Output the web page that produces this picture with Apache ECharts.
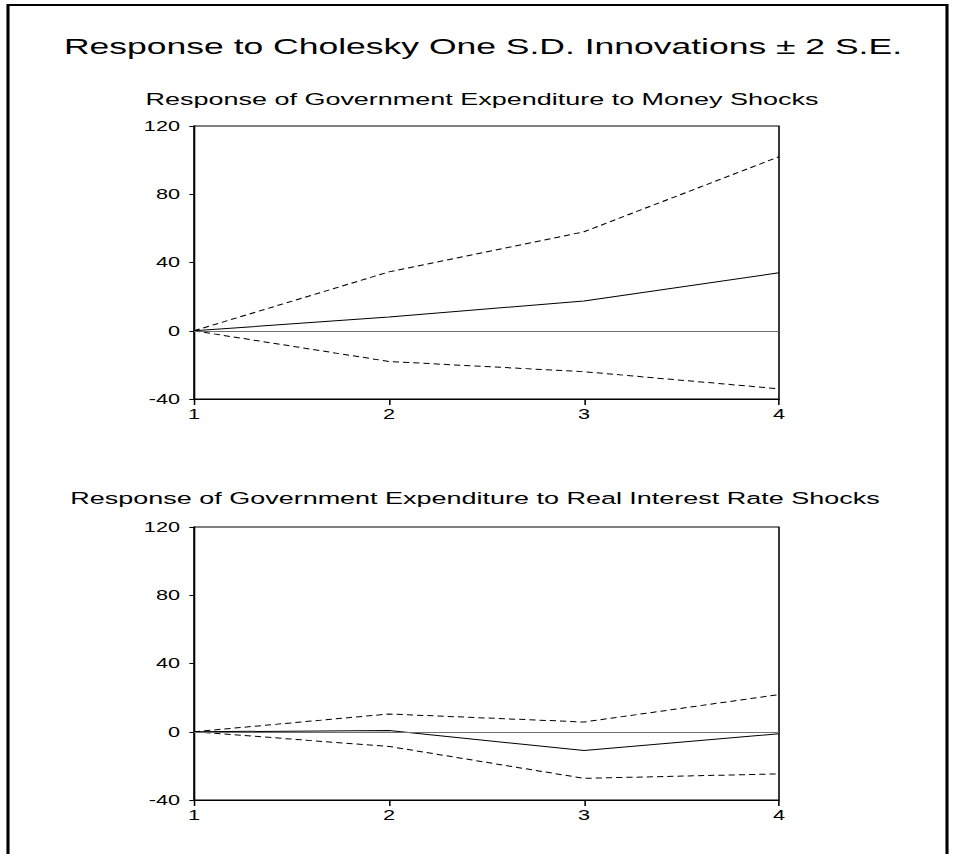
<!DOCTYPE html>
<html>
<head>
<meta charset="utf-8">
<script src="https://cdn.jsdelivr.net/npm/echarts@6/dist/echarts.min.js"></script>
<style>
  html, body { margin: 0; padding: 0; background: #fff; overflow: hidden; }
  #chart { height: 854px; transform-origin: 0 0; }
</style>
</head>
<body>
<div id="chart"></div>
<script>
// Impulse responses over a 4-period horizon, with +/- 2 S.E. bands
const steps = [1, 2, 3, 4];
const moneyResp  = [0, 8, 17.5, 34];
const moneyUpper = [0, 34.5, 58, 102];
const moneyLower = [0, -18, -24, -34];
const rateResp   = [0, 0.7, -11, -1.2];
const rateUpper  = [0, 10.4, 5.7, 21.8];
const rateLower  = [0, -8.6, -27.3, -24.7];
const yTicks = [-40, 0, 40, 80, 120];

const mainTitle = 'Response to Cholesky One S.D. Innovations \u00B1 2 S.E.';
const panelTitles = [
  'Response of Government Expenditure to Money Shocks',
  'Response of Government Expenditure to Real Interest Rate Shocks'
];

// The page is drawn in a narrower frame and widened horizontally
const SX = 1.55;
const W = 956 / SX;
const el = document.getElementById('chart');
el.style.width = W + 'px';
el.style.transform = 'scaleX(' + SX + ')';

const FONT = 'Liberation Sans, Arial, sans-serif';
const px = v => v / SX; // horizontal page pixel -> frame unit

const plotLeft = px(194), plotRight = px(779);
const panels = [
  { top: 126, height: 273, resp: moneyResp, upper: moneyUpper, lower: moneyLower },
  { top: 527, height: 273, resp: rateResp, upper: rateUpper, lower: rateLower }
];

const pairs = arr => steps.map((s, i) => [s, arr[i]]);

const grids = panels.map(p => ({
  left: plotLeft, width: plotRight - plotLeft, top: p.top, height: p.height,
  show: true, borderColor: '#000', borderWidth: 1, backgroundColor: 'transparent'
}));

const xAxes = panels.map((p, i) => ({
  type: 'value', gridIndex: i, min: 1, max: 4, interval: 1,
  axisLine: { onZero: false, lineStyle: { color: '#000', width: 1 } },
  axisTick: { show: true, length: 6, lineStyle: { color: '#000' } },
  axisLabel: { color: '#000', fontSize: 14, fontFamily: FONT, margin: 8 },
  splitLine: { show: false }
}));

const yAxes = panels.map((p, i) => ({
  type: 'value', gridIndex: i, min: yTicks[0], max: yTicks[yTicks.length - 1], interval: 40,
  axisLine: { show: true, lineStyle: { color: '#000', width: 1 } },
  axisTick: { show: true, length: 3, lineStyle: { color: '#000' } },
  axisLabel: { color: '#000', fontSize: 14, fontFamily: FONT, margin: 9 },
  splitLine: { show: false }
}));

const series = [];
panels.forEach((p, i) => {
  series.push({
    type: 'line', xAxisIndex: i, yAxisIndex: i, data: pairs(p.resp),
    showSymbol: false, silent: true,
    lineStyle: { color: '#000', width: 1 },
    markLine: {
      silent: true, symbol: 'none', label: { show: false },
      lineStyle: { color: '#6e6e6e', width: 1, type: 'solid' },
      data: [{ yAxis: 0 }]
    }
  });
  [p.upper, p.lower].forEach(band => series.push({
    type: 'line', xAxisIndex: i, yAxisIndex: i, data: pairs(band),
    showSymbol: false, silent: true,
    lineStyle: { color: '#000', width: 1, type: [4, 2.6] }
  }));
});

const chart = echarts.init(el, null, { renderer: 'svg' });
chart.setOption({
  animation: false,
  backgroundColor: '#fff',
  title: [
    { text: mainTitle, left: px(483), top: 34, textAlign: 'center', padding: 0,
      textStyle: { fontSize: 22.9, fontWeight: 'normal', color: '#000', fontFamily: FONT } },
    { text: panelTitles[0], left: px(482), top: 90, textAlign: 'center', padding: 0,
      textStyle: { fontSize: 17.4, fontWeight: 'normal', color: '#000', fontFamily: FONT } },
    { text: panelTitles[1], left: px(475), top: 489, textAlign: 'center', padding: 0,
      textStyle: { fontSize: 17.4, fontWeight: 'normal', color: '#000', fontFamily: FONT } }
  ],
  graphic: [{
    type: 'rect', silent: true,
    shape: { x: px(8), y: 5, width: px(947) - px(8), height: 900 },
    style: { fill: 'none', stroke: '#000', lineWidth: 2 }
  }],
  grid: grids,
  xAxis: xAxes,
  yAxis: yAxes,
  series: series
});
</script>
</body>
</html>
